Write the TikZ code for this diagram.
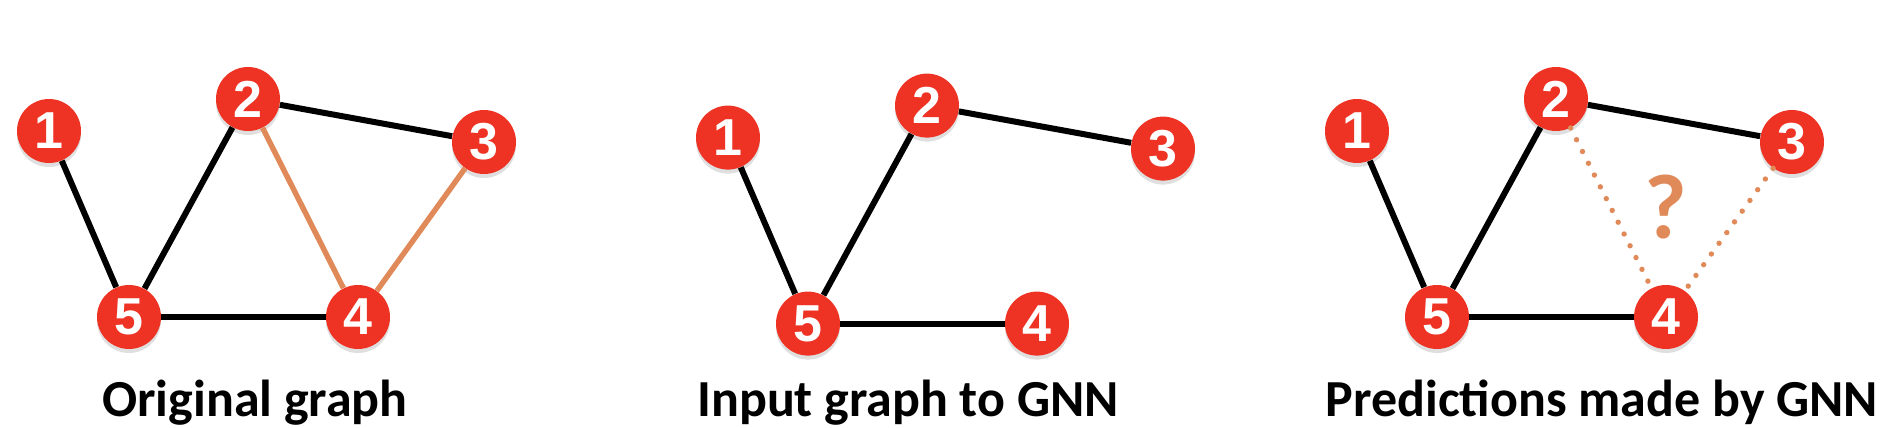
\documentclass[tikz,border=0pt]{standalone}
\usepackage{fontspec}
\setmainfont{Carlito}
\newfontfamily\numfont{Liberation Sans}
\usetikzlibrary{shadows}
\definecolor{nodered}{RGB}{238,50,36}
\definecolor{linkorange}{RGB}{224,138,90}
\begin{document}
\begin{tikzpicture}[x=0.5pt, y=-0.5pt,
		vertex/.style={circle, fill=nodered, text=white, inner sep=0pt, minimum size=32pt,
			font=\numfont\bfseries\fontsize{26}{26}\selectfont,
			drop shadow={shadow xshift=0pt, shadow yshift=-2pt, opacity=0.25}},
		edge/.style={line width=3pt, black},
		new edge/.style={line width=2.7pt, linkorange},
		guess edge/.style={line width=2.7pt, linkorange, line cap=round, dash pattern=on 0pt off 6.6pt},
		caption/.style={anchor=base, font=\bfseries\fontsize{26}{26}\selectfont}]
			\useasboundingbox (0,0) rectangle (1892,428);
			% three copies of the same five nodes
			\foreach \g/\dx/\dy in {a/0/0, b/679/6.6, c/1308/0}{
			  \begin{scope}[shift={(\dx,\dy)}]
			      \node[vertex] (\g1) at (49,131) {1};
			      \node[vertex] (\g2) at (248,99) {2};
			      \node[vertex] (\g3) at (484,142) {3};
			      \node[vertex] (\g4) at (358,317) {4};
			      \node[vertex] (\g5) at (129,317) {5};
			  \end{scope}
			}
			\foreach \g in {a,b,c}{
			  \draw[edge] (\g1) -- (\g5);
			  \draw[edge] (\g5) -- (\g2);
			  \draw[edge] (\g2) -- (\g3);
			  \draw[edge] (\g5) -- (\g4);
			}
			\draw[new edge] (a2) -- (a4);
			\draw[new edge] (a3) -- (a4);
			\draw[guess edge] (c2) -- (c4);
			\draw[guess edge] (c3) -- (c4);
			\node[font=\bfseries\fontsize{46}{46}\selectfont, text=linkorange] (guess) at (1666,207) {?};
			\node[caption] (capa) at (255,416) {Original graph};
			\node[caption] (capb) at (908,416) {Input graph to GNN};
			\node[caption] (capc) at (1602,416) {Predictions made by GNN};
		\end{tikzpicture}
\end{document}
